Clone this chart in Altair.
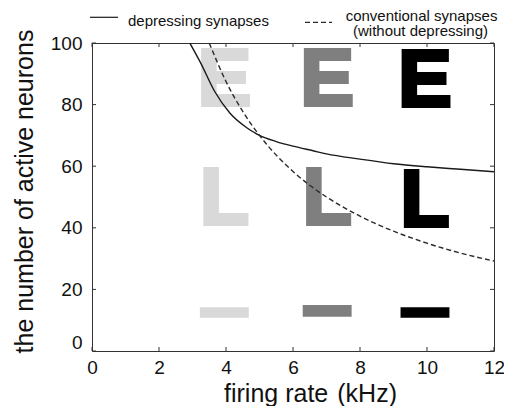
import altair as alt
import pandas as pd

# ---- data ----
x_ticks = [0, 2, 4, 6, 8, 10, 12]
y_ticks = [0, 20, 40, 60, 80, 100]

dep_rate = [2.92, 3.25, 3.65, 4.12, 4.62, 5.0, 5.5, 6.0, 6.6, 7.0, 8.0, 9.0, 10.0, 11.0, 12.0]
dep_neurons = [100, 93.4, 84.5, 77.2, 72.5, 70.0, 68.0, 66.5, 65.0, 64.0, 62.3, 60.8, 59.8, 59.0, 58.2]

conv_rate = [3.5, 4.0, 4.5, 5.0, 5.5, 6.0, 6.5, 7.0, 8.0, 9.0, 10.0, 11.0, 12.0]
conv_neurons = [100, 87.5, 77.8, 70.0, 63.6, 58.3, 53.8, 50.0, 43.8, 38.9, 35.0, 31.8, 29.2]

letter_text = ["E", "E", "E", "L", "L", "L"]
letter_x = [3.95, 7.02, 9.94, 3.95, 7.02, 9.94]
letter_y = [80, 80, 79.5, 41.1, 41.1, 40.5]
letter_shade = ["light", "mid", "dark", "light", "mid", "dark"]

dash_x0 = [3.22, 6.29, 9.21]
dash_x1 = [4.68, 7.75, 10.67]
dash_y0 = [10.8, 11.1, 10.8]
dash_y1 = [14.2, 14.9, 14.2]
dash_shade = ["light", "mid", "dark"]

shades = ["light", "mid", "dark"]
shade_colors = ["#d9d9d9", "#7f7f7f", "#000000"]

legend_labels = ["depressing synapses", "conventional synapses", "(without depressing)"]

# ---- layout ----
W, H = 402, 308
FONT = "Liberation Sans"

xscale = alt.Scale(domain=[0, 12], nice=False, zero=False)
yscale = alt.Scale(domain=[0, 100], nice=False, zero=False)

xaxis = alt.Axis(values=x_ticks, ticks=False, tickSize=0, domain=False, grid=False,
                 labelFont=FONT, labelFontSize=19, labelColor="#111", labelPadding=7,
                 labelFlush=False,
                 title="firing rate \u200a(kHz)", titleFont=FONT, titleFontSize=25,
                 titleFontWeight="normal", titleColor="#111",
                 titleX=218, titleY=50, titleBaseline="alphabetic", titleAlign="center")
yaxis = alt.Axis(values=y_ticks, ticks=False, tickSize=0, domain=False, grid=False,
                 labelFont=FONT, labelFontSize=19, labelColor="#111", labelPadding=10,
                 labelFlush=False,
                 labelOffset={"condition": {"test": "datum.value === 0", "value": -9}, "value": 0},
                 title="the number of active neurons", titleFont=FONT, titleFontSize=25,
                 titleFontWeight="normal", titleColor="#111", titleAngle=270,
                 titleX=-60, titleY=148, titleBaseline="alphabetic", titleAlign="center")

shade_scale = alt.Scale(domain=shades, range=shade_colors)

letters_df = pd.DataFrame({"t": letter_text, "x": letter_x, "y": letter_y, "shade": letter_shade})
letters = alt.Chart(letters_df).mark_text(
    font=FONT, fontWeight="bold", fontSize=80, align="center", baseline="alphabetic",
    strokeWidth=4, strokeJoin="miter"
).encode(
    x=alt.X("x:Q", scale=xscale, axis=xaxis),
    y=alt.Y("y:Q", scale=yscale, axis=yaxis),
    text="t:N",
    color=alt.Color("shade:N", scale=shade_scale, legend=None),
    stroke=alt.Stroke("shade:N", scale=shade_scale, legend=None),
)

dash_df = pd.DataFrame({"x0": dash_x0, "x1": dash_x1, "y0": dash_y0, "y1": dash_y1, "shade": dash_shade})
dashes = alt.Chart(dash_df).mark_rect().encode(
    x=alt.X("x0:Q", scale=xscale, axis=xaxis), x2="x1:Q",
    y=alt.Y("y0:Q", scale=yscale, axis=yaxis), y2="y1:Q",
    color=alt.Color("shade:N", scale=shade_scale, legend=None),
)

dep_df = pd.DataFrame({"x": dep_rate, "y": dep_neurons})
dep_line = alt.Chart(dep_df).mark_line(color="#1a1a1a", strokeWidth=1.4, interpolate="monotone", clip=True).encode(
    x=alt.X("x:Q", scale=xscale, axis=xaxis),
    y=alt.Y("y:Q", scale=yscale, axis=yaxis),
)

conv_df = pd.DataFrame({"x": conv_rate, "y": conv_neurons})
conv_line = alt.Chart(conv_df).mark_line(color="#2a2a2a", strokeWidth=1.4, strokeDash=[5, 3],
                                         interpolate="monotone", clip=True).encode(
    x=alt.X("x:Q", scale=xscale, axis=xaxis),
    y=alt.Y("y:Q", scale=yscale, axis=yaxis),
)

# inward mirrored ticks
xt_df = pd.DataFrame({"v": x_ticks})
yt_df = pd.DataFrame({"v": y_ticks})
tick_style = dict(color="#333", strokeWidth=1)
xt_bottom = alt.Chart(xt_df).mark_rule(**tick_style).encode(
    x=alt.X("v:Q", scale=xscale, axis=xaxis), y=alt.value(H), y2=alt.value(H - 4))
xt_top = alt.Chart(xt_df).mark_rule(**tick_style).encode(
    x=alt.X("v:Q", scale=xscale, axis=xaxis), y=alt.value(0), y2=alt.value(4))
yt_left = alt.Chart(yt_df).mark_rule(**tick_style).encode(
    y=alt.Y("v:Q", scale=yscale, axis=yaxis), x=alt.value(0), x2=alt.value(4))
yt_right = alt.Chart(yt_df).mark_rule(**tick_style).encode(
    y=alt.Y("v:Q", scale=yscale, axis=yaxis), x=alt.value(W), x2=alt.value(W - 4))

# legend (drawn above the plot)
one = alt.Data(values=[{"k": 1}])
leg_solid = alt.Chart(one).mark_rule(color="#1a1a1a", strokeWidth=1.2).encode(
    x=alt.value(-2), x2=alt.value(26), y=alt.value(-25.7))
leg_dash = alt.Chart(one).mark_rule(color="#2a2a2a", strokeWidth=1.2, strokeDash=[5, 3]).encode(
    x=alt.value(213), x2=alt.value(240), y=alt.value(-20.7))

def leg_text(label, x, y, align):
    return alt.Chart(alt.Data(values=[{"t": label}])).mark_text(
        font=FONT, fontSize=15, color="#111", align=align, baseline="alphabetic"
    ).encode(x=alt.value(x), y=alt.value(y), text="t:N")

leg1 = leg_text(legend_labels[0], 36, -17, "left")
leg2 = leg_text(legend_labels[1], 329.5, -22.5, "center")
leg3 = leg_text(legend_labels[2], 328.5, -7.5, "center")

chart = alt.layer(
    letters, dashes, dep_line, conv_line,
    xt_bottom, xt_top, yt_left, yt_right,
    leg_solid, leg_dash, leg1, leg2, leg3,
).properties(
    width=W, height=H,
    padding={"left": 84, "top": 35, "right": 10, "bottom": 55},
    autosize=alt.AutoSizeParams(type="none"),
    background="white",
).configure_view(stroke="#333", strokeWidth=1)

chart.save("out.html", embed_options={"renderer": "svg", "actions": False})
